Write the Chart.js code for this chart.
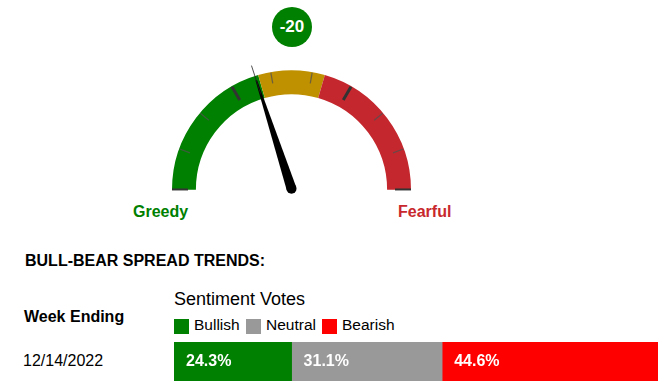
<!DOCTYPE html>
<html>
<head>
<meta charset="utf-8">
<script src="https://cdn.jsdelivr.net/npm/chart.js@4.4.1/dist/chart.umd.min.js"></script>
<style>
  html, body { margin: 0; padding: 0; background: #fff; }
  body { width: 662px; height: 386px; position: relative; overflow: hidden;
         font-family: "Liberation Sans", Arial, sans-serif; color: #000; }
  .abs { position: absolute; white-space: nowrap; line-height: 1; }
  #gaugeBox { position: absolute; left: 160px; top: 50px; width: 263px; height: 152px; }
  #barBox { position: absolute; left: 174px; top: 342px; width: 484px; height: 39px; }
  .bubble { position: absolute; left: 272px; top: 7px; width: 40px; height: 40px; border-radius: 50%;
            background: #008000; color: #fff; font-weight: bold; font-size: 17px;
            display: flex; align-items: center; justify-content: center; }
  .sw { position: absolute; width: 15px; height: 15px; top: 319px; }
</style>
</head>
<body>
<div class="bubble" id="score"></div>
<div id="gaugeBox"><canvas id="gauge"></canvas></div>
<div class="abs" id="lblLeft" style="left:133px; top:204px; font-size:16px; font-weight:bold; color:#008000;"></div>
<div class="abs" id="lblRight" style="left:398px; top:204px; font-size:16px; font-weight:bold; color:#c8282d;"></div>

<div class="abs" style="left:25px; top:252.5px; font-size:16px; font-weight:bold;">BULL-BEAR SPREAD TRENDS:</div>
<div class="abs" style="left:174px; top:290px; font-size:18px;">Sentiment Votes</div>
<div class="abs" style="left:24px; top:309px; font-size:16px; font-weight:bold;">Week Ending</div>
<div id="legend"></div>
<div class="abs" id="weekLbl" style="left:23px; top:353px; font-size:16px;"></div>
<div id="barBox"><canvas id="bar"></canvas></div>

<script>
// gauge
const gaugeMin = -100
const gaugeMax = 100
const zoneLabels = ['Greedy', 'Neutral', 'Fearful']
const zoneBounds = [-100, -18, 18, 100]
const zoneColors = ['#008000', '#bf9000', '#c4282e']
const needleValue = -20
const tickCount = 9      // divisions across the half circle
const majorEvery = 3

// sentiment votes
const weeks = ['12/14/2022']
const voteLabels = ['Bullish', 'Neutral', 'Bearish']
const voteValues = [24.3, 31.1, 44.6]
const voteColors = ['#008000', '#999999', '#ff0000']

const FONT = '"Liberation Sans", Arial, sans-serif'

document.getElementById('score').textContent = needleValue
document.getElementById('lblLeft').textContent = zoneLabels[0]
document.getElementById('lblRight').textContent = zoneLabels[2]
document.getElementById('weekLbl').textContent = weeks[0]

// legend swatches
const legendPos = [[174, 194], [245.5, 266], [321.5, 342]]
const legend = document.getElementById('legend')
voteLabels.forEach((lab, i) => {
  const sw = document.createElement('div')
  sw.className = 'sw'
  sw.style.left = legendPos[i][0] + 'px'
  sw.style.background = voteColors[i]
  legend.appendChild(sw)
  const t = document.createElement('div')
  t.className = 'abs'
  t.style.cssText = `left:${legendPos[i][1]}px; top:317px; font-size:15.5px;`
  t.textContent = lab
  legend.appendChild(t)
})

const zoneSizes = zoneBounds.slice(1).map((b, i) => b - zoneBounds[i])

// ticks + needle on top of the arcs
const gaugeDecor = {
  id: 'gaugeDecor',
  afterDatasetsDraw(chart) {
    const arc = chart.getDatasetMeta(0).data[0]
    const { x, y, outerRadius: ro } = arc
    const ctx = chart.ctx
    ctx.save()
    ctx.lineCap = 'butt'
    for (let k = 1; k < tickCount; k++) {
      const a = Math.PI + (k / tickCount) * Math.PI
      const major = k % majorEvery === 0
      const ri = major ? ro - 16 : ro - 11.5
      ctx.beginPath()
      ctx.moveTo(x + ri * Math.cos(a), y + ri * Math.sin(a))
      ctx.lineTo(x + (ro - 0.5) * Math.cos(a), y + (ro - 0.5) * Math.sin(a))
      ctx.strokeStyle = major ? '#333' : 'rgba(80,80,80,0.75)'
      ctx.lineWidth = major ? 3 : 1.2
      ctx.stroke()
    }
    // end marks
    ctx.strokeStyle = '#333'
    ctx.lineWidth = 2
    ;[-1, 1].forEach(s => {
      ctx.beginPath()
      ctx.moveTo(x + s * (ro - 16), y - 0.3)
      ctx.lineTo(x + s * ro, y - 0.3)
      ctx.stroke()
    })
    // needle
    const a = Math.PI + ((needleValue - gaugeMin) / (gaugeMax - gaugeMin)) * Math.PI
    const cx = x, cy = y - 1
    const ux = Math.cos(a), uy = Math.sin(a)
    const px = -uy, py = ux
    ctx.fillStyle = '#000'
    ctx.beginPath()
    ctx.moveTo(cx + px * 5, cy + py * 5)
    ctx.lineTo(cx + ux * 114 + px * 0.8, cy + uy * 114 + py * 0.8)
    ctx.lineTo(cx + ux * 114 - px * 0.8, cy + uy * 114 - py * 0.8)
    ctx.lineTo(cx - px * 5, cy - py * 5)
    ctx.closePath()
    ctx.fill()
    ctx.beginPath()
    ctx.arc(cx, cy, 5, 0, Math.PI * 2)
    ctx.fill()
    ctx.beginPath()
    ctx.moveTo(cx + ux * 100, cy + uy * 100)
    ctx.lineTo(cx + ux * 129.5, cy + uy * 129.5)
    ctx.strokeStyle = '#222'
    ctx.lineWidth = 0.8
    ctx.stroke()
    ctx.restore()
  }
}

new Chart(document.getElementById('gauge'), {
  type: 'doughnut',
  data: {
    labels: zoneLabels,
    datasets: [{
      data: zoneSizes,
      backgroundColor: zoneColors,
      borderWidth: 0
    }]
  },
  options: {
    responsive: true,
    maintainAspectRatio: false,
    animation: false,
    rotation: -90,
    circumference: 180,
    cutout: '80%',
    layout: { padding: { left: 12, right: 12, top: 20, bottom: 12 } },
    plugins: { legend: { display: false }, tooltip: { enabled: false } }
  },
  plugins: [gaugeDecor]
})

// percentage labels inside the bars
const barLabels = {
  id: 'barLabels',
  afterDatasetsDraw(chart) {
    const ctx = chart.ctx
    ctx.save()
    ctx.fillStyle = '#fff'
    ctx.font = 'bold 16px ' + FONT
    ctx.textBaseline = 'middle'
    chart.data.datasets.forEach((ds, i) => {
      chart.getDatasetMeta(i).data.forEach((bar, j) => {
        ctx.fillText(ds.data[j].toFixed(1) + '%', Math.min(bar.base, bar.x) + 12, bar.y + 0.5)
      })
    })
    ctx.restore()
  }
}

new Chart(document.getElementById('bar'), {
  type: 'bar',
  data: {
    labels: weeks,
    datasets: voteLabels.map((lab, i) => ({
      label: lab,
      data: [voteValues[i]],
      backgroundColor: voteColors[i],
      borderWidth: 0,
      barPercentage: 1,
      categoryPercentage: 1
    }))
  },
  options: {
    indexAxis: 'y',
    responsive: true,
    maintainAspectRatio: false,
    animation: false,
    layout: { padding: 0 },
    scales: {
      x: { stacked: true, min: 0, max: 100, display: false },
      y: { stacked: true, display: false }
    },
    plugins: { legend: { display: false }, tooltip: { enabled: false } }
  },
  plugins: [barLabels]
})
</script>
</body>
</html>
